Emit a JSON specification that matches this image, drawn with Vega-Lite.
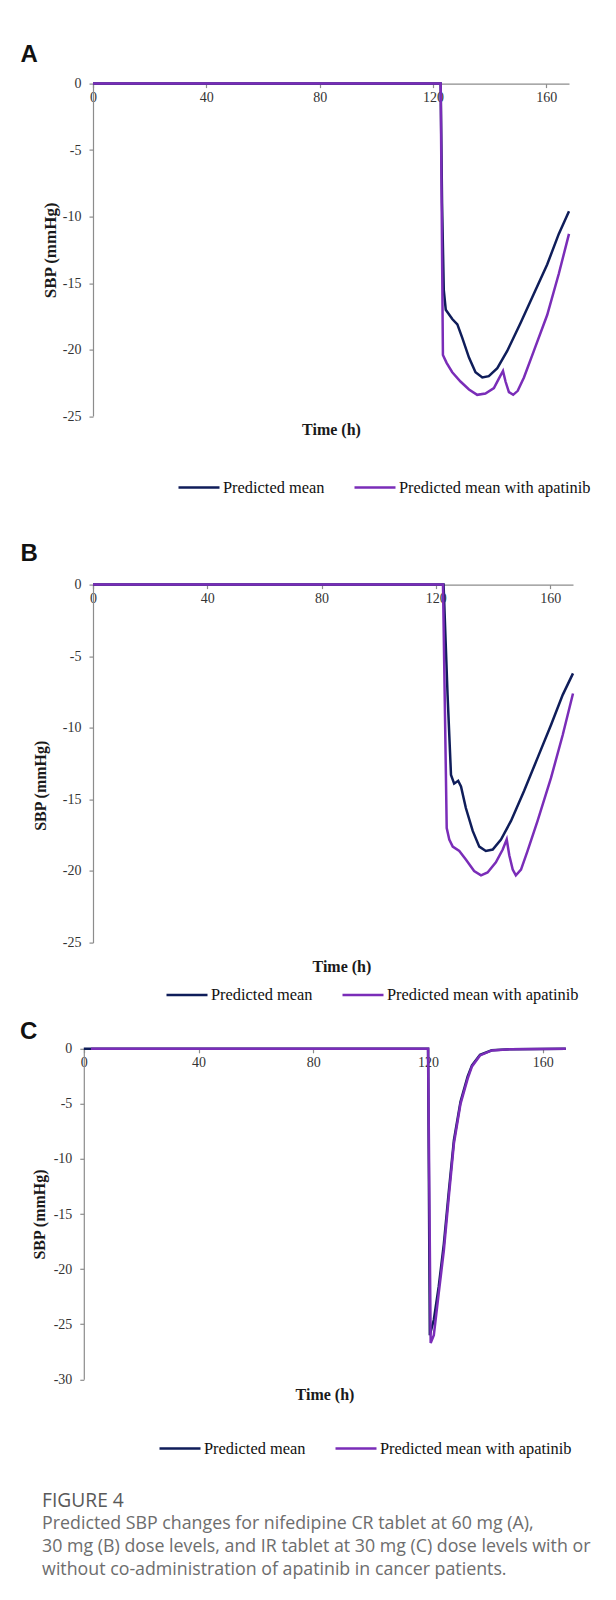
{
  "$schema": "https://vega.github.io/schema/vega-lite/v6.json",
  "padding": {"top": 42.6, "left": 20, "right": 0, "bottom": 0},
  "background": "white",
  "config": {
    "view": {"stroke": null},
    "axis": {"grid": false, "domainColor": "#8c8c8c", "tickColor": "#8c8c8c", "domainWidth": 1.2, "tickWidth": 1.2, "labelFont": "Liberation Serif", "labelFontSize": 14, "labelColor": "#333333", "titleFont": "Liberation Serif", "titleFontSize": 16, "titleFontWeight": "bold", "titleColor": "#1a1a1a", "tickSize": 4, "labelPadding": 8},
    "axisX": {"labelPadding": 3},
    "axisY": {"labelExpr": "datum.value < 0 ? '-' + abs(datum.value) : '' + datum.value"},
    "legend": {"symbolType": "stroke", "symbolSize": 1681, "symbolStrokeWidth": 3, "labelFont": "Liberation Serif", "labelFontSize": 16.4, "labelColor": "#111111", "labelOffset": 2, "columnPadding": 24, "padding": 0, "rowPadding": 0, "labelLimit": 400},
    "title": {"font": "Liberation Sans", "fontSize": 24, "fontWeight": "bold", "color": "#111111", "anchor": "start", "frame": "group", "baseline": "alphabetic"},
    "line": {"strokeWidth": 2.5}
  },
  "datasets": {
    "A": [
      {"series": "Predicted mean", "t": 0, "sbp": 0},
      {"series": "Predicted mean", "t": 122.7, "sbp": 0},
      {"series": "Predicted mean", "t": 123.2, "sbp": -9},
      {"series": "Predicted mean", "t": 123.8, "sbp": -15.5},
      {"series": "Predicted mean", "t": 124.5, "sbp": -17.0},
      {"series": "Predicted mean", "t": 126.8, "sbp": -17.7},
      {"series": "Predicted mean", "t": 128.6, "sbp": -18.1},
      {"series": "Predicted mean", "t": 130.3, "sbp": -19.1},
      {"series": "Predicted mean", "t": 132.7, "sbp": -20.6},
      {"series": "Predicted mean", "t": 135.0, "sbp": -21.7},
      {"series": "Predicted mean", "t": 137.4, "sbp": -22.1},
      {"series": "Predicted mean", "t": 139.7, "sbp": -22.0},
      {"series": "Predicted mean", "t": 142.7, "sbp": -21.4},
      {"series": "Predicted mean", "t": 146.2, "sbp": -20.1},
      {"series": "Predicted mean", "t": 150.9, "sbp": -18.0},
      {"series": "Predicted mean", "t": 155.6, "sbp": -15.8},
      {"series": "Predicted mean", "t": 160.3, "sbp": -13.6},
      {"series": "Predicted mean", "t": 164.4, "sbp": -11.3},
      {"series": "Predicted mean", "t": 168, "sbp": -9.6},
      {"series": "Predicted mean with apatinib", "t": 0, "sbp": 0},
      {"series": "Predicted mean with apatinib", "t": 122.7, "sbp": 0},
      {"series": "Predicted mean with apatinib", "t": 123.5, "sbp": -20.4},
      {"series": "Predicted mean with apatinib", "t": 124.8, "sbp": -21.0},
      {"series": "Predicted mean with apatinib", "t": 126.8, "sbp": -21.7},
      {"series": "Predicted mean with apatinib", "t": 129.7, "sbp": -22.4},
      {"series": "Predicted mean with apatinib", "t": 132.7, "sbp": -23.0},
      {"series": "Predicted mean with apatinib", "t": 135.6, "sbp": -23.4},
      {"series": "Predicted mean with apatinib", "t": 138.5, "sbp": -23.3},
      {"series": "Predicted mean with apatinib", "t": 141.5, "sbp": -22.9},
      {"series": "Predicted mean with apatinib", "t": 143.2, "sbp": -22.2},
      {"series": "Predicted mean with apatinib", "t": 144.7, "sbp": -21.6},
      {"series": "Predicted mean with apatinib", "t": 145.6, "sbp": -22.4},
      {"series": "Predicted mean with apatinib", "t": 146.8, "sbp": -23.2},
      {"series": "Predicted mean with apatinib", "t": 148.3, "sbp": -23.4},
      {"series": "Predicted mean with apatinib", "t": 149.9, "sbp": -23.1},
      {"series": "Predicted mean with apatinib", "t": 152.1, "sbp": -22.1},
      {"series": "Predicted mean with apatinib", "t": 155.6, "sbp": -20.1},
      {"series": "Predicted mean with apatinib", "t": 160.3, "sbp": -17.4},
      {"series": "Predicted mean with apatinib", "t": 164.4, "sbp": -14.3},
      {"series": "Predicted mean with apatinib", "t": 168, "sbp": -11.3}
    ],
    "B": [
      {"series": "Predicted mean", "t": 0, "sbp": 0},
      {"series": "Predicted mean", "t": 122.7, "sbp": 0},
      {"series": "Predicted mean", "t": 124.1, "sbp": -7.7},
      {"series": "Predicted mean", "t": 125.3, "sbp": -13.3},
      {"series": "Predicted mean", "t": 126.4, "sbp": -13.9},
      {"series": "Predicted mean", "t": 127.8, "sbp": -13.7},
      {"series": "Predicted mean", "t": 128.8, "sbp": -14.1},
      {"series": "Predicted mean", "t": 130.5, "sbp": -15.6},
      {"series": "Predicted mean", "t": 132.9, "sbp": -17.2},
      {"series": "Predicted mean", "t": 135.2, "sbp": -18.3},
      {"series": "Predicted mean", "t": 137.5, "sbp": -18.6},
      {"series": "Predicted mean", "t": 139.9, "sbp": -18.5},
      {"series": "Predicted mean", "t": 142.8, "sbp": -17.8},
      {"series": "Predicted mean", "t": 146.3, "sbp": -16.5},
      {"series": "Predicted mean", "t": 150.9, "sbp": -14.4},
      {"series": "Predicted mean", "t": 155.6, "sbp": -12.1},
      {"series": "Predicted mean", "t": 160.3, "sbp": -9.8},
      {"series": "Predicted mean", "t": 164.4, "sbp": -7.7},
      {"series": "Predicted mean", "t": 168, "sbp": -6.2},
      {"series": "Predicted mean with apatinib", "t": 0, "sbp": 0},
      {"series": "Predicted mean with apatinib", "t": 122.5, "sbp": 0},
      {"series": "Predicted mean with apatinib", "t": 123.8, "sbp": -17.0},
      {"series": "Predicted mean with apatinib", "t": 124.7, "sbp": -17.8},
      {"series": "Predicted mean with apatinib", "t": 125.9, "sbp": -18.3},
      {"series": "Predicted mean with apatinib", "t": 128.2, "sbp": -18.6},
      {"series": "Predicted mean with apatinib", "t": 130.5, "sbp": -19.2},
      {"series": "Predicted mean with apatinib", "t": 133.4, "sbp": -20.0},
      {"series": "Predicted mean with apatinib", "t": 135.8, "sbp": -20.3},
      {"series": "Predicted mean with apatinib", "t": 138.1, "sbp": -20.1},
      {"series": "Predicted mean with apatinib", "t": 141.0, "sbp": -19.4},
      {"series": "Predicted mean with apatinib", "t": 143.4, "sbp": -18.5},
      {"series": "Predicted mean with apatinib", "t": 144.8, "sbp": -17.8},
      {"series": "Predicted mean with apatinib", "t": 145.7, "sbp": -18.9},
      {"series": "Predicted mean with apatinib", "t": 146.9, "sbp": -19.9},
      {"series": "Predicted mean with apatinib", "t": 148.0, "sbp": -20.3},
      {"series": "Predicted mean with apatinib", "t": 149.8, "sbp": -19.9},
      {"series": "Predicted mean with apatinib", "t": 152.1, "sbp": -18.6},
      {"series": "Predicted mean with apatinib", "t": 155.6, "sbp": -16.5},
      {"series": "Predicted mean with apatinib", "t": 160.3, "sbp": -13.5},
      {"series": "Predicted mean with apatinib", "t": 164.4, "sbp": -10.5},
      {"series": "Predicted mean with apatinib", "t": 168, "sbp": -7.6}
    ],
    "C": [
      {"series": "Predicted mean", "t": 0, "sbp": 0},
      {"series": "Predicted mean", "t": 120, "sbp": 0},
      {"series": "Predicted mean", "t": 120.6, "sbp": -26.0},
      {"series": "Predicted mean", "t": 122, "sbp": -24.6},
      {"series": "Predicted mean", "t": 123.7, "sbp": -21.6},
      {"series": "Predicted mean", "t": 125.5, "sbp": -17.7},
      {"series": "Predicted mean", "t": 127.2, "sbp": -13.0},
      {"series": "Predicted mean", "t": 129, "sbp": -8.3},
      {"series": "Predicted mean", "t": 131.3, "sbp": -4.8},
      {"series": "Predicted mean", "t": 133.8, "sbp": -2.5},
      {"series": "Predicted mean", "t": 135.3, "sbp": -1.5},
      {"series": "Predicted mean", "t": 138.1, "sbp": -0.55},
      {"series": "Predicted mean", "t": 142.2, "sbp": -0.14},
      {"series": "Predicted mean", "t": 149, "sbp": -0.03},
      {"series": "Predicted mean", "t": 168, "sbp": 0},
      {"series": "Predicted mean with apatinib", "t": 2.5, "sbp": 0},
      {"series": "Predicted mean with apatinib", "t": 120, "sbp": 0},
      {"series": "Predicted mean with apatinib", "t": 120.9, "sbp": -26.7},
      {"series": "Predicted mean with apatinib", "t": 122, "sbp": -26.0},
      {"series": "Predicted mean with apatinib", "t": 123.7, "sbp": -22.2},
      {"series": "Predicted mean with apatinib", "t": 125.5, "sbp": -18.3},
      {"series": "Predicted mean with apatinib", "t": 127.2, "sbp": -13.5},
      {"series": "Predicted mean with apatinib", "t": 129, "sbp": -8.6},
      {"series": "Predicted mean with apatinib", "t": 131.3, "sbp": -5.0},
      {"series": "Predicted mean with apatinib", "t": 133.8, "sbp": -2.7},
      {"series": "Predicted mean with apatinib", "t": 135.3, "sbp": -1.6},
      {"series": "Predicted mean with apatinib", "t": 138.1, "sbp": -0.6},
      {"series": "Predicted mean with apatinib", "t": 142.2, "sbp": -0.15},
      {"series": "Predicted mean with apatinib", "t": 149, "sbp": -0.03},
      {"series": "Predicted mean with apatinib", "t": 168, "sbp": 0}
    ]
  },
  "title": {
    "text": "FIGURE 4",
    "subtitle": ["Predicted SBP changes for nifedipine CR tablet at 60 mg (A),", "30 mg (B) dose levels, and IR tablet at 30 mg (C) dose levels with or", "without co-administration of apatinib in cancer patients."],
    "orient": "bottom", "anchor": "start", "frame": "bounds",
    "font": "Open Sans", "fontSize": 19.2, "fontWeight": "normal", "color": "#595959", "baseline": "top",
    "subtitleFont": "Open Sans", "subtitleFontSize": 17.8, "subtitleColor": "#6d6d6d", "subtitleLineHeight": 23, "subtitlePadding": 4,
    "dx": 22, "offset": 34.4
  },
  "spacing": 45,
  "resolve": {"scale": {"color": "independent"}, "legend": {"color": "independent"}},
  "vconcat": [
    {
      "width": 476, "height": 332.5,
      "title": {"text": "A", "dx": -72.5, "offset": 9.2},
      "data": {"name": "A"},
      "mark": {"type": "line", "strokeWidth": 2.5},
      "encoding": {
        "x": {"field": "t", "type": "quantitative", "scale": {"domain": [0, 168], "nice": false, "zero": false},
          "axis": {"orient": "bottom", "offset": -332.5, "values": [0, 40, 80, 120, 160], "labelFlush": false, "title": "Time (h)", "titleY": 345.8, "titleBaseline": "middle"}},
        "y": {"field": "sbp", "type": "quantitative", "scale": {"domain": [-25, 0], "nice": false},
          "axis": {"values": [0, -5, -10, -15, -20, -25], "title": "SBP (mmHg)", "titleFontSize": 17, "titleX": -42.5, "titleBaseline": "middle"}},
        "color": {"field": "series", "type": "nominal", "scale": {"domain": ["Predicted mean", "Predicted mean with apatinib"], "range": ["#0f1d5a", "#7a2db8"]},
          "legend": {"orient": "none", "legendX": 84, "legendY": 381.7, "direction": "horizontal", "title": null}}
      }
    },
    {
      "spacing": 16.2,
      "resolve": {"scale": {"color": "independent"}, "legend": {"color": "independent"}},
      "vconcat": [
        {
          "width": 480, "height": 358,
          "title": {"text": "B", "dx": -72.5, "offset": 11.7},
          "data": {"name": "B"},
          "mark": {"type": "line", "strokeWidth": 2.5},
          "encoding": {
            "x": {"field": "t", "type": "quantitative", "scale": {"domain": [0, 168], "nice": false, "zero": false},
              "axis": {"orient": "bottom", "offset": -358, "values": [0, 40, 80, 120, 160], "labelFlush": false, "title": "Time (h)", "titleX": 248.4, "titleY": 381.7, "titleBaseline": "middle"}},
            "y": {"field": "sbp", "type": "quantitative", "scale": {"domain": [-25, 0], "nice": false},
              "axis": {"values": [0, -5, -10, -15, -20, -25], "title": "SBP (mmHg)", "titleX": -52.5, "titleY": 200.7, "titleBaseline": "middle"}},
            "color": {"field": "series", "type": "nominal", "scale": {"domain": ["Predicted mean", "Predicted mean with apatinib"], "range": ["#0f1d5a", "#7a2db8"]},
              "legend": {"orient": "none", "legendX": 72, "legendY": 388, "direction": "horizontal", "title": null}}
          }
        },
        {
          "width": 482, "height": 330.5,
          "title": {"text": "C", "dx": -72.9, "offset": -2.3},
          "data": {"name": "C"},
          "mark": {"type": "line", "strokeWidth": 2.5, "xOffset": -9.2},
          "encoding": {
            "x": {"field": "t", "type": "quantitative", "scale": {"domain": [0, 168], "nice": false, "zero": false},
              "axis": {"orient": "bottom", "offset": -330.5, "domain": false, "tickOffset": -9.2, "values": [0, 40, 80, 120, 160], "labelFlush": false, "title": "Time (h)", "titleX": 231.5, "titleY": 346, "titleBaseline": "middle"}},
            "y": {"field": "sbp", "type": "quantitative", "scale": {"domain": [-30, 0], "nice": false},
              "axis": {"offset": 9.2, "values": [0, -5, -10, -15, -20, -25, -30], "title": "SBP (mmHg)", "titleX": -44, "titleBaseline": "middle"}},
            "color": {"field": "series", "type": "nominal", "scale": {"domain": ["Predicted mean", "Predicted mean with apatinib"], "range": ["#0f1d5a", "#7a2db8"]},
              "legend": {"orient": "none", "legendX": 65, "legendY": 377.5, "direction": "horizontal", "title": null}}
          }
        }
      ]
    }
  ]
}
